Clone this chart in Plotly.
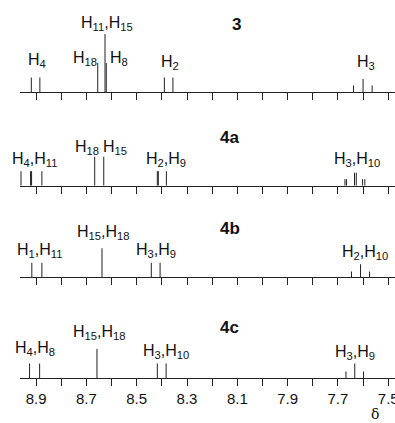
import plotly.graph_objects as go

# ---------------- data ----------------
panel_names = ["3", "4a", "4b", "4c"]

shifts_3 = [8.919, 8.885, 8.655, 8.626, 8.621, 8.390, 8.356, 7.638, 7.600, 7.564]
heights_3 = [1, 1, 2, 4, 2, 1, 1, 0.45, 0.9, 0.45]

shifts_4a = [8.960, 8.922, 8.918, 8.877, 8.667, 8.631, 8.418, 8.414, 8.382,
             7.672, 7.666, 7.634, 7.627, 7.602, 7.593]
heights_4a = [1, 1, 1, 1, 2, 2, 1, 1, 1, 0.45, 0.45, 0.9, 0.9, 0.45, 0.45]

shifts_4b = [8.917, 8.877, 8.638, 8.442, 8.407, 7.646, 7.610, 7.574]
heights_4b = [1, 1, 2, 1, 1, 0.4, 0.9, 0.4]

shifts_4c = [8.926, 8.886, 8.658, 8.418, 8.383, 7.668, 7.633, 7.598]
heights_4c = [1, 1, 2, 1, 1, 0.45, 1, 0.45]

labels_3 = ["H<sub>4</sub>", "H<sub>18</sub>", "H<sub>11</sub>,H<sub>15</sub>", "H<sub>8</sub>",
            "H<sub>2</sub>", "H<sub>3</sub>"]
label_x_3 = [8.898, 8.706, 8.619, 8.569, 8.366, 7.589]
label_y_3 = [2.32, 2.45, 4.84, 2.48, 2.14, 2.18]

labels_4a = ["H<sub>4</sub>,H<sub>11</sub>", "H<sub>18</sub>", "H<sub>15</sub>",
             "H<sub>2</sub>,H<sub>9</sub>", "H<sub>3</sub>,H<sub>10</sub>"]
label_x_4a = [8.908, 8.697, 8.586, 8.385, 7.625]
label_y_4a = [1.96, 2.8, 2.8, 1.96, 1.96]

labels_4b = ["H<sub>1</sub>,H<sub>11</sub>", "H<sub>15</sub>,H<sub>18</sub>",
             "H<sub>3</sub>,H<sub>9</sub>", "H<sub>2</sub>,H<sub>10</sub>"]
label_x_4b = [8.886, 8.635, 8.424, 7.593]
label_y_4b = [2.0, 3.26, 2.0, 1.88]

labels_4c = ["H<sub>4</sub>,H<sub>8</sub>", "H<sub>15</sub>,H<sub>18</sub>",
             "H<sub>3</sub>,H<sub>10</sub>", "H<sub>3</sub>,H<sub>9</sub>"]
label_x_4c = [8.906, 8.651, 8.382, 7.632]
label_y_4c = [2.16, 3.31, 1.98, 1.93]

name_x = [8.102, 8.130, 8.130, 8.130]
name_y = [4.66, 3.34, 3.38, 3.47]

tick_vals = [8.9, 8.8, 8.7, 8.6, 8.5, 8.4, 8.3, 8.2, 8.1, 8.0, 7.9, 7.8, 7.7, 7.6, 7.5]
tick_text = ["8.9", "", "8.7", "", "8.5", "", "8.3", "", "8.1", "", "7.9", "", "7.7", "", "7.5"]
axis_title = "δ"

# ---------------- figure ----------------
W, H = 395, 423
FONT = "Liberation Sans, Arial, Helvetica, sans-serif"
INK = "#222222"
PX_PER_UNIT = 14.5
YMAX = 5.0
baselines_px = [92, 185.7, 277.3, 378]

panels = [
    (shifts_3, heights_3, labels_3, label_x_3, label_y_3),
    (shifts_4a, heights_4a, labels_4a, label_x_4a, label_y_4a),
    (shifts_4b, heights_4b, labels_4b, label_x_4b, label_y_4b),
    (shifts_4c, heights_4c, labels_4c, label_x_4c, label_y_4c),
]

fig = go.Figure()
annotations = []
layout_axes = {}
for i, (sx, hy, lab, lx, ly) in enumerate(panels):
    n = i + 1
    xa = "x" if n == 1 else f"x{n}"
    ya = "y" if n == 1 else f"y{n}"
    xs, ys = [], []
    for s, h in zip(sx, hy):
        xs += [s, s, None]
        ys += [0, h, None]
    fig.add_trace(go.Scatter(x=xs, y=ys, mode="lines", xaxis=xa, yaxis=ya,
                             line=dict(color=INK, width=1), hoverinfo="skip",
                             showlegend=False))
    base = baselines_px[i]
    bottom = 1 - base / H
    top = 1 - (base - YMAX * PX_PER_UNIT) / H
    last = (n == len(panels))
    layout_axes[f"xaxis{'' if n == 1 else n}"] = dict(
        domain=[20 / W, 1], range=[8.964, 7.473], anchor=ya,
        showline=True, linecolor=INK, linewidth=1,
        ticks="outside", ticklen=7, tickwidth=1, tickcolor=INK,
        tickvals=tick_vals, ticktext=tick_text, showticklabels=last,
        ticklabeloverflow="allow", automargin=False,
        tickfont=dict(family=FONT, size=15, color="#111"),
        showgrid=False, zeroline=False, fixedrange=True,
    )
    layout_axes[f"yaxis{'' if n == 1 else n}"] = dict(
        domain=[bottom, top], range=[0, YMAX], anchor=xa, automargin=False,
        visible=False, showgrid=False, zeroline=False, fixedrange=True,
    )
    for t, x, y in zip(lab, lx, ly):
        annotations.append(dict(text=t, x=x, y=y, xref=xa, yref=ya,
                                showarrow=False, xanchor="center", yanchor="middle",
                                yshift=-2,
                                font=dict(family=FONT, size=16, color="#111")))
    annotations.append(dict(text=f"<b>{panel_names[i]}</b>", x=name_x[i], y=name_y[i],
                            xref=xa, yref=ya, showarrow=False,
                            xanchor="center", yanchor="middle",
                            font=dict(family=FONT, size=17, color="#111")))

annotations.append(dict(text=axis_title, x=375 / W, y=1 - 414 / H, xref="paper", yref="paper",
                        showarrow=False, xanchor="center", yanchor="middle",
                        font=dict(family="DejaVu Serif, serif", size=14, color="#111")))

fig.update_layout(
    width=W, height=H, margin=dict(l=0, r=0, t=0, b=0, autoexpand=False),
    paper_bgcolor="white", plot_bgcolor="white",
    annotations=annotations, **layout_axes,
)

fig.write_html("out.html", config={"displayModeBar": False})
